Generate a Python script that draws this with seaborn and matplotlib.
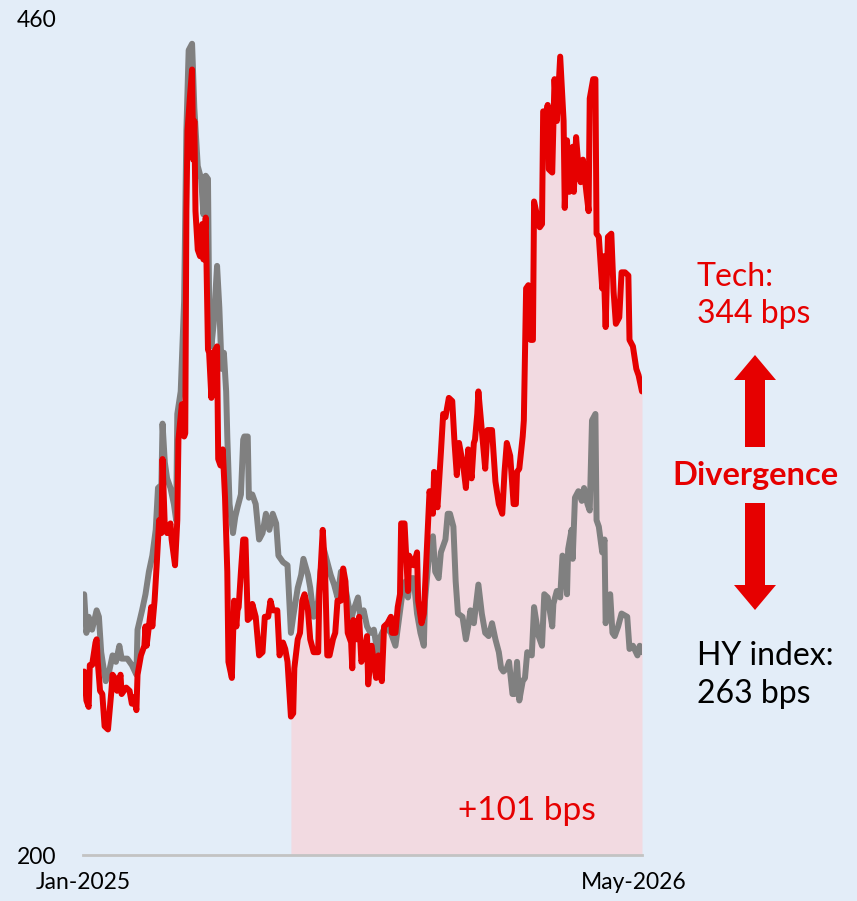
import numpy as np
import pandas as pd
import matplotlib
matplotlib.use("Agg")
import matplotlib.pyplot as plt
import seaborn as sns
from matplotlib.patches import FancyArrow

# Spread series, (calendar days since 2 Jan 2025, spread in bps)
start_date = "2025-01-02"

hy_index = [
    (0, 281), (2, 269), (4, 274), (7, 270), (11, 276), (13, 274), (15, 263), (18, 256),
    (19, 254), (22, 257), (25, 262), (28, 260), (31, 265), (33, 261), (38, 261), (42, 259),
    (46, 256), (47, 270), (51, 276), (54, 281), (57, 288), (60, 293), (63, 301), (65, 314),
    (68, 315), (69, 334), (71, 322), (73, 317), (76, 314), (79, 309), (81, 304), (82, 337),
    (85, 344), (88, 372), (90, 425), (92, 450), (95, 452), (97, 432), (100, 414), (103, 410),
    (105, 399), (107, 411), (109, 410), (110, 372), (112, 358), (114, 365), (117, 383),
    (119, 370), (121, 351), (123, 356), (125, 344), (126, 330), (128, 309), (131, 300),
    (133, 305), (135, 308), (138, 312), (140, 329), (141, 330), (144, 330), (145, 311),
    (148, 312), (151, 309), (154, 298), (157, 300), (160, 306), (163, 301), (166, 306),
    (169, 303), (171, 293), (175, 291), (179, 290), (182, 269), (184, 274), (188, 283),
    (191, 287), (193, 292), (197, 287), (199, 283), (202, 274), (206, 279), (208, 288),
    (211, 295), (214, 291), (217, 287), (220, 284), (223, 280), (226, 288), (228, 287),
    (232, 279), (235, 273), (237, 276), (241, 280), (243, 274), (246, 276), (249, 271),
    (252, 269), (255, 270), (258, 263), (261, 268), (265, 271), (270, 269), (274, 265),
    (277, 273), (280, 281), (283, 285), (285, 280), (287, 286), (290, 286), (293, 275),
    (296, 269), (299, 265), (300, 279), (303, 291), (307, 299), (309, 288), (312, 286),
    (314, 294), (318, 298), (320, 306), (322, 306), (325, 302), (327, 285), (329, 275),
    (333, 274), (336, 267), (338, 271), (340, 276), (343, 272), (347, 284), (350, 275),
    (353, 269), (356, 268), (359, 272), (362, 267), (365, 263), (367, 258), (369, 257),
    (372, 258), (374, 260), (377, 250), (379, 250), (381, 260), (383, 248), (386, 254),
    (388, 255), (390, 263), (394, 262), (396, 277), (400, 268), (403, 265), (405, 281),
    (408, 280), (412, 271), (413, 278), (416, 282), (419, 280), (421, 293), (423, 292),
    (425, 281), (426, 295), (429, 301), (430, 292), (432, 311), (435, 313), (438, 310),
    (440, 314), (443, 309), (445, 307), (447, 335), (450, 337), (451, 304), (453, 302),
    (456, 294), (458, 298), (459, 272), (463, 281), (465, 269), (467, 268), (470, 271),
    (473, 275), (478, 274), (480, 264), (483, 265), (487, 262), (489, 265), (491, 263),
]

tech = [
    (0, 257), (2, 248), (4, 246), (5, 259), (7, 259), (10, 266), (11, 267), (12, 260),
    (14, 251), (16, 250), (18, 240), (21, 239), (24, 251), (25, 256), (27, 255), (29, 251),
    (32, 256), (33, 250), (37, 252), (40, 251), (42, 247), (44, 249), (46, 245), (47, 256),
    (50, 262), (53, 265), (54, 271), (55, 265), (59, 277), (60, 271), (62, 279), (64, 291),
    (66, 304), (68, 300), (69, 323), (71, 302), (73, 300), (76, 303), (77, 298), (80, 290),
    (82, 304), (83, 329), (86, 340), (88, 330), (89, 331), (90, 400), (91, 425), (93, 435),
    (95, 444), (96, 416), (97, 428), (98, 400), (100, 388), (102, 386), (104, 396),
    (105, 385), (107, 398), (109, 357), (110, 356), (112, 342), (114, 356), (117, 358),
    (118, 323), (120, 321), (122, 326), (124, 311), (126, 288), (127, 260), (130, 255),
    (132, 279), (134, 271), (135, 276), (136, 277), (138, 288), (140, 298), (142, 298),
    (144, 273), (147, 274), (148, 278), (151, 274), (154, 262), (157, 263), (159, 274),
    (162, 274), (164, 279), (166, 276), (170, 276), (172, 262), (175, 266), (177, 264),
    (179, 260), (182, 243), (184, 244), (185, 258), (188, 267), (190, 269), (192, 279),
    (194, 281), (197, 276), (199, 267), (202, 263), (206, 263), (207, 281), (210, 301),
    (212, 289), (214, 262), (216, 262), (219, 267), (221, 269), (223, 279), (226, 279),
    (228, 289), (230, 285), (232, 269), (235, 266), (236, 258), (237, 273), (240, 267),
    (242, 274), (244, 260), (246, 262), (249, 268), (250, 253), (253, 265), (255, 260),
    (257, 255), (259, 262), (262, 254), (264, 271), (267, 272), (270, 274), (271, 269),
    (274, 269), (276, 277), (278, 281), (279, 303), (282, 303), (285, 282), (286, 293),
    (290, 290), (293, 294), (294, 279), (297, 272), (299, 275), (302, 298), (304, 313),
    (307, 306), (308, 319), (309, 311), (311, 308), (314, 325), (316, 337), (318, 336),
    (321, 342), (324, 341), (326, 328), (328, 318), (330, 328), (334, 320), (336, 314),
    (338, 326), (341, 317), (343, 328), (344, 329), (346, 337), (347, 344), (350, 332),
    (353, 320), (355, 332), (359, 332), (362, 316), (365, 309), (368, 306), (370, 319),
    (372, 328), (375, 324), (378, 309), (380, 309), (381, 319), (383, 320), (386, 330),
    (387, 335), (389, 376), (391, 377), (393, 360), (395, 360), (396, 403), (399, 398),
    (401, 395), (403, 396), (404, 431), (407, 431), (408, 433), (409, 413), (412, 412),
    (414, 441), (416, 428), (419, 448), (422, 428), (423, 401), (425, 422), (427, 406),
    (430, 420), (431, 406), (433, 423), (435, 414), (437, 409), (439, 416), (442, 406),
    (444, 400), (445, 435), (448, 441), (450, 441), (451, 393), (453, 392), (456, 376),
    (457, 386), (459, 364), (461, 392), (464, 393), (466, 375), (468, 365), (471, 367),
    (473, 381), (476, 381), (479, 380), (480, 360), (483, 358), (486, 351), (488, 349),
    (491, 344),
]

x_tick_dates = ["2025-01-01", "2026-05-01"]
x_tick_labels = ["Jan-2025", "May-2026"]
y_ticks = [200, 460]

BG = "#e3edf8"
FILL = "#f2dae1"
RED = "#e60000"
GREY = "#808080"
BASE = "#c3c3c3"


def to_frame(points):
    df = pd.DataFrame(points, columns=["day", "bps"])
    df["date"] = pd.Timestamp(start_date) + pd.to_timedelta(df["day"], unit="D")
    return df


hy_df = to_frame(hy_index)
tech_df = to_frame(tech)

sns.set_theme(style="white")
plt.rcParams["font.family"] = ["Lato", "DejaVu Sans"]

W, H = 857, 901
fig = plt.figure(figsize=(W / 100, H / 100), dpi=100, facecolor=BG)
ax = fig.add_axes([83 / W, 1 - 855 / H, (642 - 83) / W, (855 - 18) / H])
ax.set_facecolor(BG)

# Tech trough after the spring spike, and the widening since then
later = tech_df[tech_df["day"] > 150]
trough = later.loc[later["bps"].idxmin()]
since = tech_df[tech_df["date"] >= trough["date"]]
ax.fill_between(since["date"], y_ticks[0], since["bps"], color=FILL, lw=0, zorder=1)

sns.lineplot(data=hy_df, x="date", y="bps", ax=ax, color=GREY, linewidth=4.3,
             solid_joinstyle="round", solid_capstyle="round", zorder=3)
sns.lineplot(data=tech_df, x="date", y="bps", ax=ax, color=RED, linewidth=4.3,
             solid_joinstyle="round", solid_capstyle="round", zorder=4)

ax.set_xlim(tech_df["date"].iloc[0], tech_df["date"].iloc[-1])
ax.set_ylim(y_ticks[0], y_ticks[-1])
ax.set_xticks(pd.to_datetime(x_tick_dates))
ax.set_xticklabels(x_tick_labels)
ax.set_yticks(y_ticks)
ax.set_yticklabels([str(v) for v in y_ticks])
ax.set_xlabel("")
ax.set_ylabel("")
ax.tick_params(axis="both", length=0, labelsize=16.5, colors="black")
ax.tick_params(axis="y", pad=19)
ax.tick_params(axis="x", pad=12)
for side in ("top", "right", "left"):
    ax.spines[side].set_visible(False)
ax.spines["bottom"].set_color(BASE)
ax.spines["bottom"].set_linewidth(2)

# Annotation layer in pixel units
ov = fig.add_axes([0, 0, 1, 1])
ov.set_xlim(0, W)
ov.set_ylim(H, 0)
ov.axis("off")
ov.patch.set_alpha(0)

tech_last = int(tech_df["bps"].iloc[-1])
hy_last = int(hy_df["bps"].iloc[-1])
widening = tech_last - int(trough["bps"])

fs = 23
ov.text(697, 286, "Tech:", color=RED, fontsize=fs, ha="left", va="baseline")
ov.text(697, 323, f"{tech_last} bps", color=RED, fontsize=fs, ha="left", va="baseline")
ov.text(697, 665, "HY index:", color="black", fontsize=fs, ha="left", va="baseline")
ov.text(697, 703, f"{hy_last} bps", color="black", fontsize=fs, ha="left", va="baseline")
ov.text(755, 485, "Divergence", color=RED, fontsize=23.5, fontweight="bold",
        ha="center", va="baseline")
ov.text(527, 820, f"+{widening} bps", color=RED, fontsize=24, ha="center", va="baseline")

ov.add_patch(FancyArrow(755, 447, 0, -92, width=20, head_width=42, head_length=25,
                        length_includes_head=True, color=RED, lw=0))
ov.add_patch(FancyArrow(755, 503, 0, 107, width=20, head_width=42, head_length=25,
                        length_includes_head=True, color=RED, lw=0))

fig.savefig("out.png", dpi=100, facecolor=BG)
